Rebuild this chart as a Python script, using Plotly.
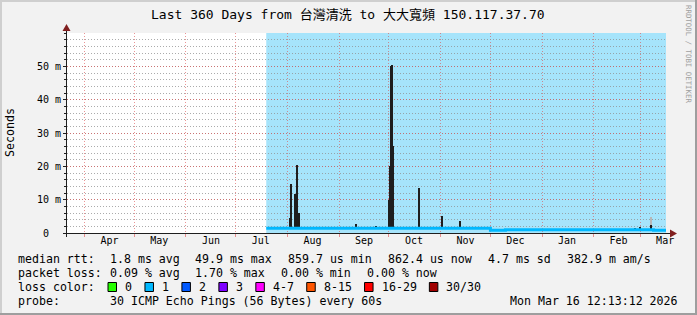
import numpy as np
import pandas as pd
import plotly.graph_objects as go

# ---------------- data ----------------
title_text = "Last 360 Days from 台灣清洗 to 大大寬頻 150.117.37.70"
range_start = "2025-03-21 12:13:12"
range_end = "2026-03-16 12:13:12"

month_starts = ["2025-04-01", "2025-05-01", "2025-06-01", "2025-07-01", "2025-08-01", "2025-09-01",
                "2025-10-01", "2025-11-01", "2025-12-01", "2026-01-01", "2026-02-01", "2026-03-01"]
month_label_dates = ["2025-04-16", "2025-05-16", "2025-06-16", "2025-07-16", "2025-08-16", "2025-09-16",
                     "2025-10-16", "2025-11-16", "2025-12-16", "2026-01-16", "2026-02-16", "2026-03-16"]
month_labels = ["Apr", "May", "Jun", "Jul", "Aug", "Sep", "Oct", "Nov", "Dec", "Jan", "Feb", "Mar"]

y_tick_values = [0, 10, 20, 30, 40, 50]
y_tick_labels = ["0\u00a0\u00a0", "10 m", "20 m", "30 m", "40 m", "50 m"]
y_max = 60

loss_bg_start = "2025-07-19 06:00"

median_dates = ["2025-07-19 06:00", "2025-12-01 00:00", "2025-12-10 00:00", "2026-03-09 00:00", "2026-03-16 12:13"]
median_ms = [1.45, 0.8, 1.0, 0.85, 0.85]

smoke_dates = ["2025-08-02 07:00", "2025-08-03 03:00", "2025-08-05 12:00", "2025-08-06 17:00", "2025-08-07 17:00",
               "2025-08-16 00:00", "2025-09-11 00:00", "2025-09-23 00:00",
               "2025-10-01 00:00", "2025-10-01 12:00", "2025-10-01 22:00", "2025-10-02 12:00",
               "2025-10-03 03:00", "2025-10-03 15:00",
               "2025-10-19 00:00", "2025-11-02 00:00", "2025-11-12 12:00",
               "2026-02-26 00:00", "2026-03-01 00:00", "2026-03-07 12:00"]
smoke_max_ms = [4.5, 14.7, 11.7, 20.5, 6.0,
                1.9, 2.7, 2.2,
                10.0, 20.0, 50.0, 50.5,
                26.0, 21.5,
                13.5, 5.0, 3.6,
                1.6, 1.8, 2.5]

faint_smoke_dates = ["2026-03-07 12:00"]
faint_smoke_max_ms = [4.9]

stat_lines = [
    ["median rtt:", "1.8 ms avg", "49.9 ms max", "859.7 us min", "862.4 us now", "4.7 ms sd", "382.9 m am/s"],
    ["packet loss:", "0.09 % avg", "1.70 % max", "0.00 % min", "0.00 % now"],
]
loss_title = "loss color:"
loss_labels = ["0", "1", "2", "3", "4-7", "8-15", "16-29", "30/30"]
loss_colors = ["#26ff00", "#00b8ff", "#0059ff", "#7e00ff", "#ff00ff", "#ff5500", "#ff0000", "#a00000"]
probe_title = "probe:"
probe_text = "30 ICMP Echo Pings (56 Bytes) every 60s"
stamp_text = "Mon Mar 16 12:13:12 2026"
watermark = "RRDTOOL / TOBI OETIKER"

# ---------------- layout constants ----------------
W, H = 697, 315
ML, MR, MT, MB = 67, 31, 33, 82
PW = W - ML - MR
PH = H - MT - MB
MONO = "DejaVu Sans Mono, Noto Sans CJK TC, monospace"
CW = 6.96  # legend char width


def px(x):
    return (x - ML) / PW


def py(y):
    return (MT + PH - y) / PH


md = pd.to_datetime(median_dates)


def median_at(d):
    i = md.searchsorted(pd.Timestamp(d), side="right") - 1
    return median_ms[max(i, 0)]


fig = go.Figure()

DAY = 86400000
# faint smoke
fb = [median_at(d) for d in faint_smoke_dates]
fig.add_trace(go.Bar(x=pd.to_datetime(faint_smoke_dates), y=np.array(faint_smoke_max_ms) - np.array(fb), base=fb,
                     width=[0.7 * DAY] * len(fb), marker=dict(color="#b8b8b8", line=dict(width=0)),
                     hoverinfo="skip", showlegend=False))
# smoke
sb = [median_at(d) for d in smoke_dates]
fig.add_trace(go.Bar(x=pd.to_datetime(smoke_dates), y=np.array(smoke_max_ms) - np.array(sb), base=sb,
                     width=[0.7 * DAY] * len(sb), marker=dict(color="#1e1e1e", line=dict(width=0)),
                     hoverinfo="skip", showlegend=False))
# median line
fig.add_trace(go.Scatter(x=md, y=median_ms, mode="lines", line=dict(color="#00b8ff", width=3, shape="hv"),
                         hoverinfo="skip", showlegend=False))

shapes = []
# loss background
shapes.append(dict(type="rect", xref="x", yref="y domain", x0=loss_bg_start, x1=range_end, y0=0, y1=1,
                   fillcolor="#a6e4fb", line=dict(width=0), layer="below"))
# axis lines
AX = "#1f1f1f"
ARROW = "#801f1f"
shapes.append(dict(type="line", xref="paper", yref="paper", x0=px(63), x1=px(671), y0=py(233.5), y1=py(233.5),
                   line=dict(color=AX, width=1), layer="above"))
shapes.append(dict(type="line", xref="paper", yref="paper", x0=px(66.5), x1=px(66.5), y0=py(237), y1=py(30),
                   line=dict(color=AX, width=1), layer="above"))
# arrows
shapes.append(dict(type="path", xref="paper", yref="paper",
                   path=f"M {px(62.5)} {py(31)} L {px(70.5)} {py(31)} L {px(66.5)} {py(24)} Z",
                   fillcolor=ARROW, line=dict(width=0), layer="above"))
shapes.append(dict(type="path", xref="paper", yref="paper",
                   path=f"M {px(670)} {py(229.5)} L {px(670)} {py(237.5)} L {px(677)} {py(233.5)} Z",
                   fillcolor=ARROW, line=dict(width=0), layer="above"))
# 3D frame
shapes.append(dict(type="rect", xref="paper", yref="paper", x0=px(0), x1=px(W), y0=py(0), y1=py(2),
                   fillcolor="#cfcfcf", line=dict(width=0), layer="above"))
shapes.append(dict(type="rect", xref="paper", yref="paper", x0=px(0), x1=px(2), y0=py(0), y1=py(H),
                   fillcolor="#cfcfcf", line=dict(width=0), layer="above"))
shapes.append(dict(type="rect", xref="paper", yref="paper", x0=px(0), x1=px(W), y0=py(H - 2), y1=py(H),
                   fillcolor="#9e9e9e", line=dict(width=0), layer="above"))
shapes.append(dict(type="rect", xref="paper", yref="paper", x0=px(W - 2), x1=px(W), y0=py(0), y1=py(H),
                   fillcolor="#9e9e9e", line=dict(width=0), layer="above"))

ann = []


def text(x, y, s, size=11.6, xanchor="left", color="#000", angle=0):
    ann.append(dict(x=px(x), y=py(y), xref="paper", yref="paper", text=s, showarrow=False,
                    xanchor=xanchor, yanchor="middle", textangle=angle,
                    font=dict(family=MONO, size=size, color=color)))


text(347.5, 15, title_text, size=13, xanchor="center")
text(10, 133, "Seconds", size=11.6, xanchor="center", angle=-90)
text(689, 54, watermark, size=7.4, xanchor="center", color="#a0a0a0", angle=90)

line_y = [259.3, 273.3, 287, 301]
stat_x = [[16, 107.6, 192.9, 285.8, 386.0, 485.8, 564.9],
          [16, 107.6, 192.9, 279.1, 365.3]]
for li, items in enumerate(stat_lines):
    for xi, s in zip(stat_x[li], items):
        text(xi, line_y[li], s.replace(" ", "\u00a0"))

text(16, line_y[2], loss_title.replace(" ", "\u00a0"))
bx = 108
for lab, col in zip(loss_labels, loss_colors):
    shapes.append(dict(type="rect", xref="paper", yref="paper", x0=px(bx), x1=px(bx + 8.5),
                       y0=py(line_y[2] - 4.5), y1=py(line_y[2] + 4.5),
                       fillcolor=col, line=dict(color="#000", width=1), layer="above"))
    text(bx + 15, line_y[2], lab)
    bx = bx + 15 + len(lab) * CW + 15

text(16, line_y[3], probe_title)
text(107.6, line_y[3], probe_text.replace(" ", "\u00a0"))
text(680, line_y[3], stamp_text.replace(" ", "\u00a0"), xanchor="right")

MAJ = "rgba(222,79,79,0.6)"
MIN = "rgba(143,143,143,0.75)"

fig.update_layout(
    width=W, height=H,
    margin=dict(l=ML, r=MR, t=MT, b=MB, pad=0),
    paper_bgcolor="#f2f2f2", plot_bgcolor="#ffffff",
    showlegend=False, bargap=0,
    shapes=shapes, annotations=ann,
    xaxis=dict(type="date", range=[range_start, range_end], tickmode="array",
               tickvals=month_label_dates, ticktext=month_labels, ticks="", showgrid=False,
               showline=False, zeroline=False, fixedrange=True,
               tickfont=dict(family=MONO, size=10, color="#000"),
               minor=dict(tickmode="array", tickvals=month_starts, showgrid=True, gridcolor=MAJ,
                          griddash="1px,2px", gridwidth=1, ticks="outside", ticklen=3, tickcolor=MAJ)),
    yaxis=dict(range=[0, y_max], tickmode="array", tickvals=y_tick_values, ticktext=y_tick_labels,
               ticks="outside", ticklen=3, tickcolor=AX, showgrid=True, gridcolor=MAJ, griddash="1px,2px",
               showline=False, zeroline=False, fixedrange=True,
               tickfont=dict(family=MONO, size=10, color="#000"),
               minor=dict(dtick=2, tick0=0, showgrid=True, gridcolor=MIN, griddash="1px,2px",
                          ticks="outside", ticklen=2, tickcolor=AX)),
)

fig.write_html("out.html")
